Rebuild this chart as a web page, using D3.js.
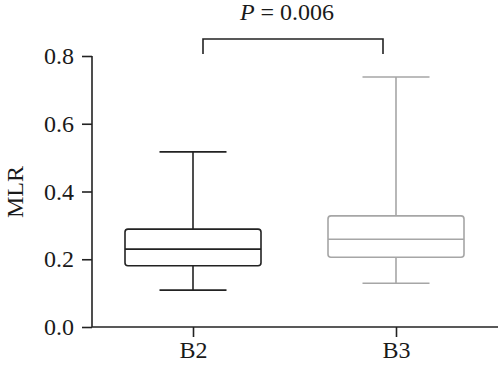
<!DOCTYPE html>
<html>
<head>
<meta charset="utf-8">
<script src="https://cdn.jsdelivr.net/npm/d3@7"></script>
<style>
  body { margin: 0; background: #fff; }
  text { font-family: "Liberation Serif", "DejaVu Serif", serif; fill: #1a1a1a; }
</style>
</head>
<body>
<div id="chart"></div>
<script>
// ----------------------------------------------- //
// Data
var groups = ["B2", "B3"];
var whiskerLow = [0.109, 0.129];
var q1 = [0.181, 0.206];
var median = [0.230, 0.259];
var q3 = [0.289, 0.328];
var whiskerHigh = [0.517, 0.738];
var groupColors = ["#222222", "#a6a6a6"];
var yTicks = [0.0, 0.2, 0.4, 0.6, 0.8];
var pLabel = "0.006";

// ----------------------------------------------- //
var svgWidth = 500;
var svgHeight = 371;
var margin = { top: 56, right: 0, bottom: 44, left: 92 };
var chartWidth = svgWidth - margin.left - margin.right;
var chartHeight = svgHeight - margin.top - margin.bottom;

var svg = d3.select("#chart")
    .append("svg")
    .attr("width", svgWidth)
    .attr("height", svgHeight);

var chartGroup = svg.append("g")
    .attr("transform", `translate(${margin.left}, ${margin.top})`);

// Scales
var xScale = d3.scalePoint()
    .domain(groups)
    .range([101, 304]);

var yScale = d3.scaleLinear()
    .domain([0, 0.8])
    .range([chartHeight, 0]);

// Axes
var leftAxis = d3.axisLeft(yScale)
    .tickValues(yTicks)
    .tickFormat(d3.format(".1f"))
    .tickSize(10)
    .tickPadding(8);

var bottomAxis = d3.axisBottom(xScale)
    .tickSize(10)
    .tickPadding(4);

var yAxis = chartGroup.append("g").call(leftAxis);
var xAxis = chartGroup.append("g")
    .attr("transform", `translate(0, ${chartHeight})`)
    .call(bottomAxis);

[yAxis, xAxis].forEach(function(ax) {
    ax.select(".domain").remove();
    ax.selectAll("line").attr("stroke", "#222").attr("stroke-width", 1.6);
    ax.selectAll("text").style("font-size", "24px").attr("fill", "#1a1a1a");
});

// axis lines
chartGroup.append("line")
    .attr("x1", 0).attr("x2", 0)
    .attr("y1", yScale(0.8)).attr("y2", chartHeight)
    .attr("stroke", "#222").attr("stroke-width", 1.6);
chartGroup.append("line")
    .attr("x1", 0).attr("x2", chartWidth - 2)
    .attr("y1", chartHeight).attr("y2", chartHeight)
    .attr("stroke", "#222").attr("stroke-width", 1.6);

// y label
svg.append("text")
    .attr("transform", "translate(23, 192) rotate(-90)")
    .attr("text-anchor", "middle")
    .style("font-size", "24px")
    .text("MLR");

// ----------------------------------------------- //
// Boxes
var boxWidth = 136;
var capWidth = 67;

groups.forEach(function(g, i) {
    var cx = xScale(g);
    var col = groupColors[i];
    var grp = chartGroup.append("g")
        .attr("stroke", col)
        .attr("stroke-width", 1.6)
        .attr("fill", "none");

    // whisker stems
    grp.append("line")
        .attr("x1", cx).attr("x2", cx)
        .attr("y1", yScale(whiskerHigh[i])).attr("y2", yScale(q3[i]));
    grp.append("line")
        .attr("x1", cx).attr("x2", cx)
        .attr("y1", yScale(q1[i])).attr("y2", yScale(whiskerLow[i]));

    // caps
    [whiskerHigh[i], whiskerLow[i]].forEach(function(v) {
        grp.append("line")
            .attr("x1", cx - capWidth / 2).attr("x2", cx + capWidth / 2)
            .attr("y1", yScale(v)).attr("y2", yScale(v));
    });

    // box
    grp.append("rect")
        .attr("x", cx - boxWidth / 2)
        .attr("y", yScale(q3[i]))
        .attr("width", boxWidth)
        .attr("height", yScale(q1[i]) - yScale(q3[i]))
        .attr("rx", 3).attr("ry", 3);

    // median
    grp.append("line")
        .attr("x1", cx - boxWidth / 2).attr("x2", cx + boxWidth / 2)
        .attr("y1", yScale(median[i])).attr("y2", yScale(median[i]));
});

// ----------------------------------------------- //
// Significance bracket
var bx1 = xScale("B2") + 10;
var bx2 = xScale("B3") - 13;
var bTop = -17;
chartGroup.append("path")
    .attr("d", `M${bx1},${bTop + 15}V${bTop}H${bx2}V${bTop + 15}`)
    .attr("fill", "none")
    .attr("stroke", "#222")
    .attr("stroke-width", 1.6);

var pText = chartGroup.append("text")
    .attr("x", (bx1 + bx2) / 2 - 6)
    .attr("y", -36)
    .attr("text-anchor", "middle")
    .style("font-size", "24px");
pText.append("tspan").style("font-style", "italic").text("P");
pText.append("tspan").attr("xml:space", "preserve").text(" = " + pLabel);
</script>
</body>
</html>
